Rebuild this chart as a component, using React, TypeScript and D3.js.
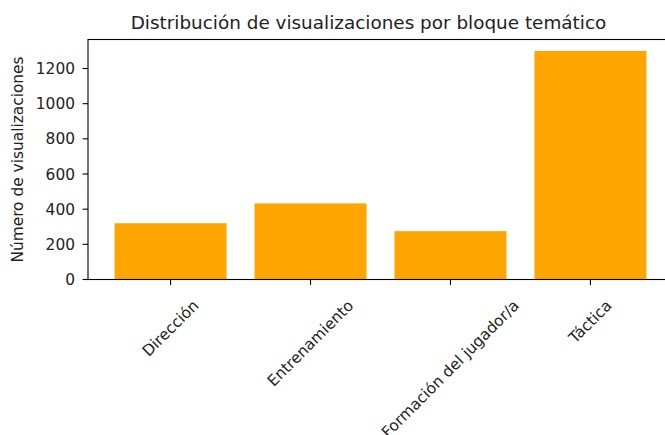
import React, { useRef, useEffect } from 'react';
import * as d3 from 'd3';

const categories = ['Dirección', 'Entrenamiento', 'Formación del jugador/a', 'Táctica'];
const views = [320, 433, 275, 1300];
const yTicks = [0, 200, 400, 600, 800, 1000, 1200];

const App: React.FC = () => {
	const svgRef = useRef<SVGSVGElement | null>(null);

	useEffect(() => {
		if (!svgRef.current) return;

		const width = 665;
		const height = 435;
		const margin = { top: 39.5, left: 88, bottom: 279.5, right: 673 };
		const font = 'DejaVu Sans, sans-serif';
		const tickSize = 15.4;
		const tickLen = 5.4;

		const svg = d3.select(svgRef.current)
			.attr('width', width)
			.attr('height', height);
		svg.selectAll('*').remove();

		// linear x mimicking matplotlib bar(width=0.8) with 5% margins
		const n = categories.length;
		const x = d3.scaleLinear()
			.domain([-0.4 - 0.19, n - 1 + 0.4 + 0.19])
			.range([margin.left, margin.right]);
		const y = d3.scaleLinear()
			.domain([0, d3.max(views)! * 1.05])
			.range([margin.bottom, margin.top]);

		// bars
		svg.append('g')
			.selectAll('rect')
			.data(views)
			.join('rect')
			.attr('x', (_, i) => x(i - 0.4))
			.attr('width', x(0.8) - x(0))
			.attr('y', d => y(d))
			.attr('height', d => y(0) - y(d))
			.attr('fill', '#FFA500');

		// spines
		svg.append('rect')
			.attr('x', margin.left)
			.attr('y', margin.top)
			.attr('width', margin.right - margin.left)
			.attr('height', margin.bottom - margin.top)
			.attr('fill', 'none')
			.attr('stroke', '#000')
			.attr('stroke-width', 1.1);

		// y axis
		const yg = svg.append('g');
		yTicks.forEach(t => {
			yg.append('line')
				.attr('x1', margin.left - tickLen)
				.attr('x2', margin.left)
				.attr('y1', y(t))
				.attr('y2', y(t))
				.attr('stroke', '#000')
				.attr('stroke-width', 1.1);
			yg.append('text')
				.attr('x', margin.left - 13)
				.attr('y', y(t))
				.attr('dy', '0.36em')
				.attr('text-anchor', 'end')
				.attr('font-family', font)
				.attr('font-size', tickSize)
				.attr('fill', '#222')
				.text(t);
		});

		// x axis
		const xg = svg.append('g');
		categories.forEach((c, i) => {
			xg.append('line')
				.attr('x1', x(i))
				.attr('x2', x(i))
				.attr('y1', margin.bottom)
				.attr('y2', margin.bottom + tickLen)
				.attr('stroke', '#000')
				.attr('stroke-width', 1.1);
			const label = xg.append('text')
				.attr('text-anchor', 'middle')
				.attr('dominant-baseline', 'central')
				.attr('font-family', font)
				.attr('font-size', tickSize)
				.attr('fill', '#222')
				.text(c);
			const w = (label.node() as SVGTextElement).getComputedTextLength();
			const h = (w + 14) / Math.SQRT2;
			label.attr('transform', `translate(${x(i)},${margin.bottom + 18.5 + h / 2}) rotate(-45)`);
		});

		// y label
		svg.append('text')
			.attr('transform', `translate(18,${(margin.top + margin.bottom) / 2}) rotate(-90)`)
			.attr('text-anchor', 'middle')
			.attr('dominant-baseline', 'central')
			.attr('font-family', font)
			.attr('font-size', tickSize)
			.attr('fill', '#222')
			.text('Número de visualizaciones');

		// title
		svg.append('text')
			.attr('x', 368.5)
			.attr('y', 29)
			.attr('text-anchor', 'middle')
			.attr('font-family', font)
			.attr('font-size', 18.4)
			.attr('fill', '#222')
			.text('Distribución de visualizaciones por bloque temático');
	}, []);

	return (
		<svg ref={svgRef} style={{ position: 'absolute', left: 0, top: 0, display: 'block' }} />
	);
};

export default App;
